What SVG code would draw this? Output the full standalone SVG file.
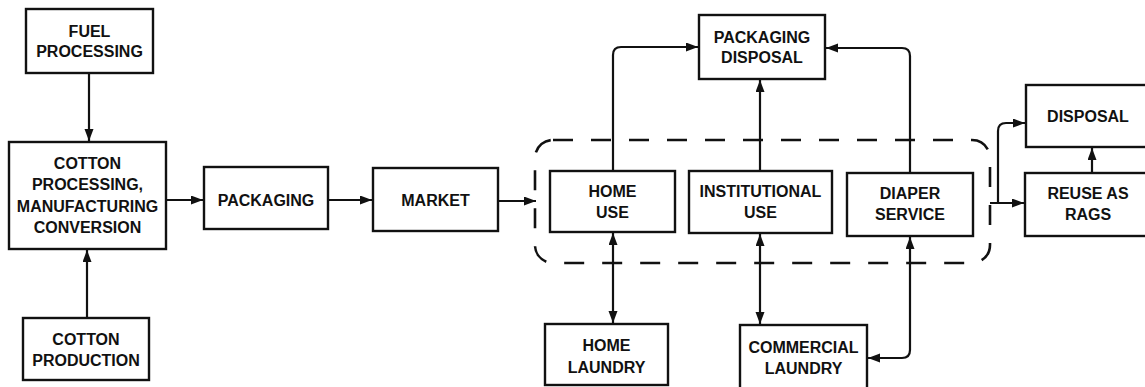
<svg xmlns="http://www.w3.org/2000/svg" width="1145" height="387" viewBox="0 0 1145 387">
<style>
.box{fill:#fff;stroke:#111;stroke-width:2.4}
.t{font-family:"Liberation Sans",Arial,sans-serif;font-weight:bold;font-size:16px;fill:#111;text-anchor:middle}
.c{fill:none;stroke:#111;stroke-width:2.2}
.dash{fill:none;stroke:#111;stroke-width:2.6;stroke-dasharray:20 18}
</style>
<defs>
<marker id="ah" markerUnits="userSpaceOnUse" markerWidth="14" markerHeight="10" refX="12" refY="4.5" orient="auto-start-reverse">
<path d="M0,0 L12,4.5 L0,9 Z" fill="#111"/>
</marker>
</defs>
<rect width="1145" height="387" fill="#fff"/>
<g id="connectors">
<line class="c" x1="89" y1="73" x2="89" y2="141" marker-end="url(#ah)"/>
<line class="c" x1="87" y1="318" x2="87" y2="250" marker-end="url(#ah)"/>
<line class="c" x1="166" y1="200" x2="203" y2="200" marker-end="url(#ah)"/>
<line class="c" x1="328" y1="200" x2="372" y2="200" marker-end="url(#ah)"/>
<line class="c" x1="498" y1="201" x2="536" y2="201" marker-end="url(#ah)"/>
<path class="c" d="M613,171 L613,55 Q613,47 621,47 L698,47" marker-end="url(#ah)"/>
<line class="c" x1="760" y1="171" x2="760" y2="80" marker-end="url(#ah)"/>
<path class="c" d="M910,173 L910,56 Q910,48 902,48 L826,48" marker-end="url(#ah)"/>
<line class="c" x1="613" y1="233" x2="613" y2="323" marker-start="url(#ah)" marker-end="url(#ah)"/>
<line class="c" x1="760" y1="234" x2="760" y2="324" marker-start="url(#ah)" marker-end="url(#ah)"/>
<path class="c" d="M868,358 L902,358 Q910,358 910,350 L910,237" marker-start="url(#ah)" marker-end="url(#ah)"/>
<line class="c" x1="990" y1="203" x2="1024" y2="203" marker-end="url(#ah)"/>
<path class="c" d="M998,203 L998,131 Q998,123 1006,123 L1025,123" marker-end="url(#ah)"/>
<line class="c" x1="1092" y1="173" x2="1092" y2="148" marker-end="url(#ah)"/>
<rect class="dash" x="535" y="140" width="455" height="123" rx="18" ry="18"/>
</g>
<g id="fuel-processing"><rect class="box" x="26" y="9" width="127" height="64"/><text class="t" x="89.5" y="37">FUEL</text><text class="t" x="89.5" y="57">PROCESSING</text></g>
<g id="cotton-processing"><rect class="box" x="9" y="142" width="157" height="107"/><text class="t" x="87.5" y="169">COTTON</text><text class="t" x="87.5" y="190">PROCESSING,</text><text class="t" x="87.5" y="212">MANUFACTURING</text><text class="t" x="87.5" y="233">CONVERSION</text></g>
<g id="cotton-production"><rect class="box" x="23" y="318" width="126" height="62"/><text class="t" x="86" y="345">COTTON</text><text class="t" x="86" y="366">PRODUCTION</text></g>
<g id="packaging"><rect class="box" x="204" y="167" width="124" height="62"/><text class="t" x="266" y="206">PACKAGING</text></g>
<g id="market"><rect class="box" x="373" y="168" width="125" height="63"/><text class="t" x="435.5" y="206">MARKET</text></g>
<g id="home-use"><rect class="box" x="550" y="171" width="125" height="61"/><text class="t" x="612.5" y="197">HOME</text><text class="t" x="612.5" y="218">USE</text></g>
<g id="institutional-use"><rect class="box" x="689" y="171" width="143" height="62"/><text class="t" x="760.5" y="197">INSTITUTIONAL</text><text class="t" x="760.5" y="218">USE</text></g>
<g id="diaper-service"><rect class="box" x="847" y="173" width="126" height="63"/><text class="t" x="910" y="199">DIAPER</text><text class="t" x="910" y="220">SERVICE</text></g>
<g id="packaging-disposal"><rect class="box" x="699" y="15" width="126" height="64"/><text class="t" x="762" y="43">PACKAGING</text><text class="t" x="762" y="63">DISPOSAL</text></g>
<g id="home-laundry"><rect class="box" x="545" y="324" width="123" height="61"/><text class="t" x="606.5" y="351">HOME</text><text class="t" x="606.5" y="373">LAUNDRY</text></g>
<g id="commercial-laundry"><rect class="box" x="740" y="325" width="127" height="64"/><text class="t" x="803.5" y="353">COMMERCIAL</text><text class="t" x="803.5" y="374">LAUNDRY</text></g>
<g id="disposal"><rect class="box" x="1026" y="85" width="125" height="62"/><text class="t" x="1088" y="122">DISPOSAL</text></g>
<g id="reuse-as-rags"><rect class="box" x="1025" y="173" width="126" height="63"/><text class="t" x="1088" y="199">REUSE AS</text><text class="t" x="1088" y="220">RAGS</text></g>
</svg>
